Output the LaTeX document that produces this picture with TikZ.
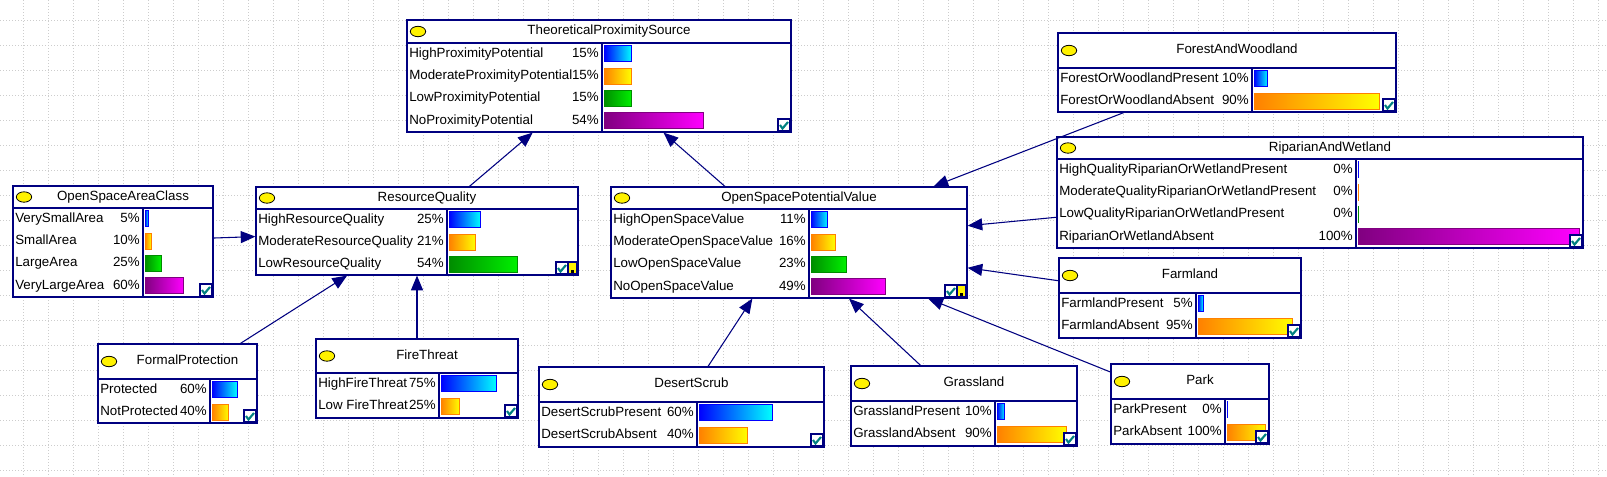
\documentclass[tikz,border=0pt]{standalone}
\usepackage{fontspec}
\setmainfont{Liberation Sans}
\usetikzlibrary{arrows.meta,fit,shapes.geometric}

\definecolor{bnnavy}{RGB}{0,0,128}
\definecolor{bngrid}{RGB}{205,205,205}
\definecolor{bntick}{RGB}{0,128,128}
\definecolor{bnorange}{RGB}{255,128,0}
\definecolor{bnpurple}{RGB}{128,0,128}
\definecolor{bngreen}{RGB}{0,140,0}
\definecolor{bnlime}{RGB}{0,240,0}

% network node: name, left, top, right, bottom, header line, divider, title
\newcommand{\bnbox}[8]{%
  \def\bnN{#1}\def\bnL{#2}\def\bnT{#3}\def\bnR{#4}\def\bnB{#5}\def\bnH{#6}\def\bnD{#7}%
  \coordinate (#1-nw) at (#2,#3);
  \coordinate (#1-se) at (#4,#5);
  \node [bnframe,fit=(#1-nw)(#1-se)] (#1) {};
  \draw [bnline] (#2,#6) -- (#4,#6);
  \draw [bnline] (#7,#6) -- (#7,#5);
  \node [bnlamp] (#1-lamp) at (#2+11,{(#3+#6)/2}) {};
  \node [bntext] (#1-title) at ({(#2+#4)/2+10},{(#3+#6)/2}) {#8};
}

% one state: row, label, percent, bar style
\newcommand{\bnstate}[4]{%
  \pgfmathsetmacro{\bnY}{\bnH+22.3*#1-11.5}
  \pgfmathsetmacro{\bnW}{max(0.4,(\bnR-\bnD-5)*0.01*#3)}
  \node [bntext,anchor=west] (\bnN-l#1) at (\bnL+2,\bnY) {#2};
  \node [bntext,anchor=east] (\bnN-p#1) at (\bnD-3,\bnY) {#3\%};
  \path [#4] (\bnD+2,\bnY-8) rectangle ++(\bnW,16);
}

\newcommand{\bncheck}[1][0]{%
  \filldraw [fill=white,draw=bnnavy,line width=0.8pt] (\bnR-13-#1,\bnB-13) rectangle ++(12,12);
  \draw [bntick,line width=1.6pt] (\bnR-11-#1,\bnB-7) -- (\bnR-8.5-#1,\bnB-3.5) -- (\bnR-3-#1,\bnB-10);
}

\newcommand{\bnmemo}{%
  \filldraw [fill=yellow,draw=bnnavy,line width=0.8pt] (\bnR-10,\bnB-13) rectangle ++(9,12);
  \fill (\bnR-7,\bnB-5) rectangle ++(3,3);
}

\begin{document}
\begin{tikzpicture}[x=0.75pt,y=-0.75pt,
  bnframe/.style={draw=bnnavy,fill=white,line width=0.9pt,inner sep=0pt},
  bnline/.style={draw=bnnavy,line width=0.9pt},
  bnlamp/.style={ellipse,draw=black,fill=yellow,line width=0.6pt,inner sep=0pt,minimum width=11.5pt,minimum height=7.8pt},
  bntext/.style={font=\fontsize{10}{12}\selectfont,inner sep=0pt,text height=7.2pt,text depth=2pt},
  bnedge/.style={draw=bnnavy,line width=0.8pt,-{Triangle[length=11pt,width=9pt]}},
  bngridline/.style={draw=bngrid,line width=0.75pt,dash pattern=on 0.75pt off 1.5pt},
  stblue/.style={draw=blue,line width=0.75pt,left color=blue,right color=cyan},
  storange/.style={draw=bnorange,line width=0.75pt,left color=bnorange,right color=yellow},
  stgreen/.style={draw=bngreen,line width=0.75pt,left color=bngreen,right color=bnlime},
  stpurple/.style={draw=bnpurple,line width=0.75pt,left color=bnpurple,right color=magenta}]

\useasboundingbox (0,0) rectangle (1607,476);
\fill [white] (0,0) rectangle (1607,476);

% grid
\foreach \gx in {23,48,...,1598} \draw [bngridline] (\gx,0) -- (\gx,476);
\foreach \gy in {20,45,...,470} \draw [bngridline] (0,\gy) -- (1607,\gy);

\bnbox{tps}{407}{20}{791}{132}{43}{602}{TheoreticalProximitySource}
\bnstate{1}{HighProximityPotential}{15}{stblue}
\bnstate{2}{ModerateProximityPotential}{15}{storange}
\bnstate{3}{LowProximityPotential}{15}{stgreen}
\bnstate{4}{NoProximityPotential}{54}{stpurple}
\bncheck

\bnbox{osac}{13}{186}{213}{297}{208}{143}{OpenSpaceAreaClass}
\bnstate{1}{VerySmallArea}{5}{stblue}
\bnstate{2}{SmallArea}{10}{storange}
\bnstate{3}{LargeArea}{25}{stgreen}
\bnstate{4}{VeryLargeArea}{60}{stpurple}
\bncheck

\bnbox{rq}{256}{187}{578}{275}{209}{447}{ResourceQuality}
\bnstate{1}{HighResourceQuality}{25}{stblue}
\bnstate{2}{ModerateResourceQuality}{21}{storange}
\bnstate{3}{LowResourceQuality}{54}{stgreen}
\bncheck[9]
\bnmemo

\bnbox{ospv}{611}{187}{967}{298}{209}{809}{OpenSpacePotentialValue}
\bnstate{1}{HighOpenSpaceValue}{11}{stblue}
\bnstate{2}{ModerateOpenSpaceValue}{16}{storange}
\bnstate{3}{LowOpenSpaceValue}{23}{stgreen}
\bnstate{4}{NoOpenSpaceValue}{49}{stpurple}
\bncheck[9]
\bnmemo

\bnbox{fw}{1058}{33}{1396}{112}{68}{1252}{ForestAndWoodland}
\bnstate{1}{ForestOrWoodlandPresent}{10}{stblue}
\bnstate{2}{ForestOrWoodlandAbsent}{90}{storange}
\bncheck

\bnbox{rw}{1057}{137}{1583}{248}{159}{1356}{RiparianAndWetland}
\bnstate{1}{HighQualityRiparianOrWetlandPresent}{0}{stblue}
\bnstate{2}{ModerateQualityRiparianOrWetlandPresent}{0}{storange}
\bnstate{3}{LowQualityRiparianOrWetlandPresent}{0}{stgreen}
\bnstate{4}{RiparianOrWetlandAbsent}{100}{stpurple}
\bncheck

\bnbox{farm}{1059}{258}{1301}{338}{293}{1196}{Farmland}
\bnstate{1}{FarmlandPresent}{5}{stblue}
\bnstate{2}{FarmlandAbsent}{95}{storange}
\bncheck

\bnbox{fp}{98}{344}{257}{423}{379}{210}{FormalProtection}
\bnstate{1}{Protected}{60}{stblue}
\bnstate{2}{NotProtected}{40}{storange}
\bncheck

\bnbox{ft}{316}{339}{518}{418}{373}{439}{FireThreat}
\bnstate{1}{HighFireThreat}{75}{stblue}
\bnstate{2}{Low FireThreat}{25}{storange}
\bncheck

\bnbox{ds}{539}{367}{824}{447}{402}{697}{DesertScrub}
\bnstate{1}{DesertScrubPresent}{60}{stblue}
\bnstate{2}{DesertScrubAbsent}{40}{storange}
\bncheck

\bnbox{gl}{851}{366}{1077}{446}{401}{995}{Grassland}
\bnstate{1}{GrasslandPresent}{10}{stblue}
\bnstate{2}{GrasslandAbsent}{90}{storange}
\bncheck

\bnbox{park}{1111}{364}{1269}{444}{399}{1225}{Park}
\bnstate{1}{ParkPresent}{0}{stblue}
\bnstate{2}{ParkAbsent}{100}{storange}
\bncheck

% links
\draw [bnedge] (rq) -- (tps);
\draw [bnedge] (ospv) -- (tps);
\draw [bnedge] (osac) -- (rq);
\draw [bnedge] (fp) -- (rq);
\draw [bnedge] (ft) -- (rq);
\draw [bnedge] (fw) -- (ospv);
\draw [bnedge] (rw) -- (ospv);
\draw [bnedge] (farm) -- (ospv);
\draw [bnedge] (ds) -- (ospv);
\draw [bnedge] (gl) -- (ospv);
\draw [bnedge] (park) -- (ospv);

\end{tikzpicture}
\end{document}
